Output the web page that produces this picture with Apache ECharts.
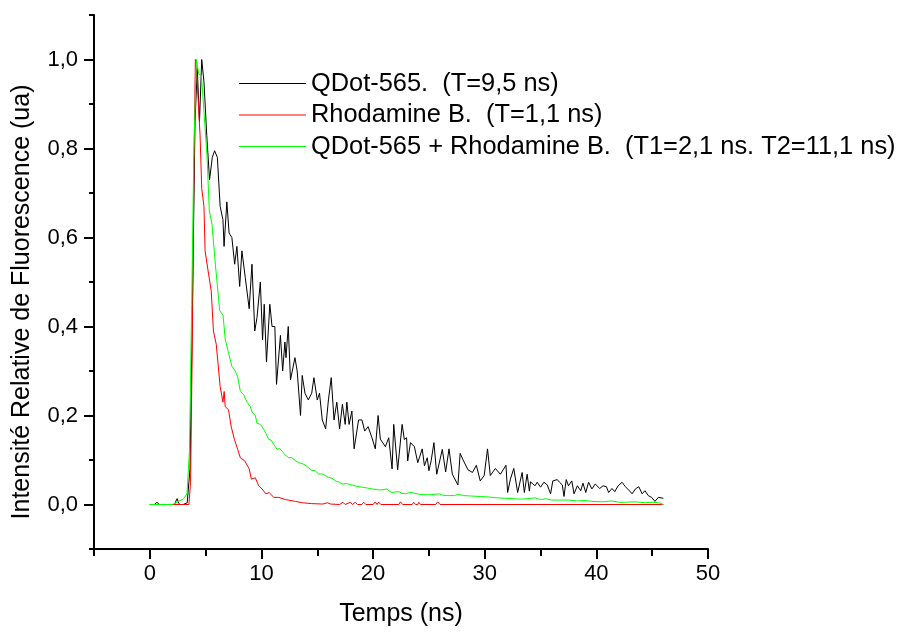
<!DOCTYPE html>
<html><head><meta charset="utf-8">
<script src="https://cdn.jsdelivr.net/npm/echarts@6/dist/echarts.min.js"></script>
<style>html,body{margin:0;padding:0;background:#fff}#c{width:909px;height:632px}</style>
</head><body><div id="c"></div>
<script>
const seriesNames = [
  'QDot-565.  (T=9,5 ns)',
  'Rhodamine B.  (T=1,1 ns)',
  'QDot-565 + Rhodamine B.  (T1=2,1 ns. T2=11,1 ns)'
];
const xTitle = 'Temps (ns)';
const yTitle = 'Intensité Relative de Fluorescence (ua)';
const xMajorTicks = [0, 10, 20, 30, 40, 50];
const xMinorTicks = [-5, 5, 15, 25, 35, 45];
const yMajorTicks = [0, 0.2, 0.4, 0.6, 0.8, 1.0];
const yMinorTicks = [-0.1, 0.1, 0.3, 0.5, 0.7, 0.9, 1.1];

// [time (ns), relative intensity]
const qdot = [[0,0],[0.4,0],[0.64,0.005],[0.85,0],[2.2,0],[2.44,0.013],[2.65,0],[3.0,0],[3.35,0.004],[3.6,0.08],[3.85,0.5],[4.05,0.86],[4.25,0.98],[4.45,0.86],[4.65,1.0],[4.85,0.95],[5.1,0.83],[5.35,0.73],[5.6,0.78],[5.8,0.795],[6.05,0.78],[6.3,0.67],[6.55,0.64],[6.65,0.58],[6.9,0.68],[7.1,0.61],[7.35,0.60],[7.6,0.54],[7.8,0.58],[8.05,0.49],[8.25,0.57],[8.55,0.51],[8.9,0.44],[9.15,0.54],[9.4,0.39],[9.6,0.42],[9.9,0.50],[10.1,0.37],[10.25,0.45],[10.45,0.32],[10.75,0.45],[10.95,0.40],[11.2,0.40],[11.35,0.27],[11.7,0.38],[11.9,0.30],[12.1,0.365],[12.2,0.33],[12.4,0.40],[12.6,0.28],[13.0,0.33],[13.2,0.30],[13.5,0.20],[13.65,0.29],[13.9,0.25],[14.2,0.235],[14.5,0.25],[14.7,0.285],[15.0,0.235],[15.2,0.25],[15.45,0.19],[15.75,0.17],[16.0,0.235],[16.25,0.285],[16.5,0.19],[16.75,0.23],[17.0,0.17],[17.25,0.225],[17.5,0.18],[17.65,0.23],[17.85,0.18],[18.1,0.21],[18.3,0.125],[18.7,0.19],[19.0,0.19],[19.25,0.165],[19.55,0.175],[19.9,0.15],[20.2,0.125],[20.45,0.20],[20.65,0.147],[21.1,0.13],[21.4,0.15],[21.7,0.08],[21.85,0.18],[22.2,0.078],[22.6,0.18],[22.8,0.146],[23.0,0.15],[23.1,0.098],[23.35,0.139],[23.7,0.13],[24.0,0.094],[24.4,0.125],[24.6,0.087],[24.85,0.105],[25.0,0.076],[25.2,0.098],[25.45,0.139],[25.7,0.068],[26.2,0.124],[26.5,0.073],[26.8,0.125],[27.1,0.068],[27.6,0.044],[27.8,0.115],[28.1,0.098],[28.5,0.078],[28.9,0.072],[29.25,0.088],[29.6,0.053],[29.95,0.065],[30.25,0.125],[30.5,0.065],[30.95,0.081],[31.4,0.068],[31.9,0.088],[32.05,0.027],[32.3,0.057],[32.6,0.081],[32.95,0.027],[33.35,0.072],[33.55,0.027],[33.8,0.068],[34.0,0.03],[34.1,0.051],[34.5,0.042],[34.7,0.05],[35.0,0.039],[35.3,0.05],[35.6,0.044],[35.9,0.024],[36.1,0.053],[36.5,0.056],[36.7,0.05],[36.95,0.044],[37.1,0.018],[37.3,0.056],[37.5,0.042],[37.8,0.053],[38.0,0.024],[38.3,0.042],[38.6,0.031],[38.8,0.048],[39.05,0.027],[39.3,0.05],[39.6,0.035],[39.9,0.046],[40.3,0.036],[40.6,0.042],[40.9,0.04],[41.1,0.027],[41.4,0.036],[41.65,0.029],[41.95,0.042],[42.3,0.05],[42.6,0.04],[42.95,0.031],[43.2,0.024],[43.5,0.035],[43.8,0.04],[44.1,0.024],[44.35,0.031],[44.65,0.02],[44.95,0.016],[45.25,0.007],[45.55,0.016],[46.0,0.014]];

const rhodamine = [[0,0],[1,0],[2,0],[3,0],[3.5,0],[3.65,0.05],[3.8,0.35],[3.95,0.75],[4.08,1.0],[4.25,0.95],[4.5,0.83],[4.65,0.71],[4.85,0.67],[4.95,0.57],[5.25,0.52],[5.5,0.48],[5.7,0.39],[5.95,0.36],[6.1,0.36],[6.3,0.265],[6.55,0.23],[6.66,0.254],[6.75,0.22],[7.05,0.213],[7.28,0.176],[7.58,0.146],[7.87,0.124],[8.11,0.105],[8.5,0.098],[8.9,0.08],[9.1,0.057],[9.45,0.06],[9.75,0.042],[10.05,0.035],[10.4,0.024],[10.7,0.027],[11.1,0.016],[11.55,0.016],[12.15,0.011],[13.05,0.007],[13.65,0.004],[14.5,0.002],[15.5,0.001],[15.9,0.004],[16.2,0.001],[17.0,0],[17.3,0.005],[17.5,0],[17.97,0.005],[18.15,0],[18.41,0.005],[18.6,0],[19.0,0],[19.16,0.005],[19.35,0],[20.0,0],[20.2,0.006],[20.35,0],[20.5,0.005],[20.7,0],[22.3,0],[22.45,0.006],[22.65,0],[23.5,0],[23.64,0.005],[23.8,0],[24.0,0],[24.09,0.005],[24.25,0],[25.6,0],[25.79,0.006],[26.0,0],[46,0]];

const mix = [[0,0],[1,0],[2,0],[2.44,0.005],[3.03,0.013],[3.33,0.024],[3.55,0.12],[3.75,0.45],[3.95,0.8],[4.17,1.0],[4.38,0.967],[4.62,0.964],[4.83,0.89],[5.12,0.785],[5.33,0.66],[5.57,0.63],[5.87,0.54],[6.26,0.436],[6.56,0.425],[6.76,0.37],[7.06,0.34],[7.36,0.31],[7.65,0.30],[7.87,0.287],[8.11,0.254],[8.4,0.247],[8.7,0.23],[9.0,0.22],[9.2,0.206],[9.45,0.2],[9.6,0.183],[9.9,0.18],[10.2,0.169],[10.4,0.16],[10.65,0.146],[10.85,0.145],[11.1,0.135],[11.4,0.124],[11.6,0.126],[11.85,0.12],[12.1,0.112],[12.45,0.105],[12.7,0.106],[13.05,0.098],[13.4,0.094],[13.8,0.09],[14.1,0.085],[14.53,0.076],[14.8,0.077],[15.12,0.068],[15.4,0.069],[15.72,0.065],[16.0,0.061],[16.32,0.059],[16.7,0.052],[17.0,0.05],[17.22,0.046],[17.6,0.047],[18.1,0.044],[18.5,0.041],[19.0,0.039],[19.5,0.037],[19.9,0.035],[20.4,0.033],[20.8,0.033],[21.25,0.035],[21.45,0.03],[21.7,0.027],[22.0,0.028],[22.3,0.029],[22.6,0.025],[22.9,0.024],[23.3,0.027],[23.65,0.026],[24.1,0.023],[24.55,0.022],[25.2,0.022],[25.88,0.024],[26.2,0.021],[26.63,0.02],[27.3,0.02],[27.6,0.023],[28.1,0.02],[28.8,0.019],[29.6,0.018],[30.3,0.017],[31.1,0.015],[31.8,0.014],[32.6,0.013],[33.2,0.012],[33.8,0.013],[34.5,0.015],[35.0,0.011],[35.5,0.013],[36.0,0.01],[36.6,0.01],[37.5,0.01],[38.3,0.008],[39.0,0.009],[39.6,0.007],[40.5,0.006],[41.4,0.008],[42.0,0.005],[42.6,0.005],[43.5,0.006],[44.4,0.004],[45.0,0.005],[45.6,0.004],[46.0,0.0]];

const colors = ['#000000', '#ff0000', '#00ff00'];
const FONT = "'Liberation Sans', Arial, sans-serif";

const chart = echarts.init(document.getElementById('c'), null, {renderer: 'canvas'});
const axisLine = {show: true, onZero: false, lineStyle: {color: '#000', width: 2}};
const noLine = {show: false, onZero: false};
chart.setOption({
  animation: false,
  backgroundColor: '#fff',
  grid: {left: 94, top: 15, width: 614, height: 539, containLabel: false},
  legend: {
    data: seriesNames, orient: 'vertical', left: 239, top: 71, padding: 0,
    itemWidth: 67, itemHeight: 1, itemGap: 6.5, icon: 'rect',
    textStyle: {fontFamily: FONT, fontSize: 25.4, color: '#000'}
  },
  xAxis: [{
    type: 'value', min: -5, max: 50, position: 'bottom',
    axisLine: axisLine,
    axisTick: {show: true, inside: false, length: 10, customValues: xMajorTicks, lineStyle: {color: '#000', width: 2}},
    axisLabel: {show: true, customValues: xMajorTicks, margin: 14, fontFamily: FONT, fontSize: 22, color: '#000'},
    splitLine: {show: false},
    name: xTitle, nameLocation: 'middle', nameGap: 53,
    nameTextStyle: {fontFamily: FONT, fontSize: 25, color: '#000'}
  }, {
    type: 'value', min: -5, max: 50, position: 'bottom', gridIndex: 0,
    axisLine: noLine,
    axisTick: {show: true, length: 7, customValues: xMinorTicks, lineStyle: {color: '#000', width: 2}},
    axisLabel: {show: false},
    splitLine: {show: false}
  }],
  yAxis: [{
    type: 'value', min: -0.1, max: 1.1, position: 'left',
    axisLine: axisLine,
    axisTick: {show: true, length: 10, customValues: yMajorTicks, lineStyle: {color: '#000', width: 2}},
    axisLabel: {show: true, customValues: yMajorTicks, margin: 16, fontFamily: FONT, fontSize: 22, color: '#000',
      formatter: v => v.toFixed(1).replace('.', ',')},
    splitLine: {show: false},
    name: yTitle, nameLocation: 'middle', nameGap: 59, nameRotate: 90,
    nameTextStyle: {fontFamily: FONT, fontSize: 25, color: '#000', padding: [0, 40, 0, 0]}
  }, {
    type: 'value', min: -0.1, max: 1.1, position: 'left', gridIndex: 0,
    axisLine: noLine,
    axisTick: {show: true, length: 5, customValues: yMinorTicks, lineStyle: {color: '#000', width: 2}},
    axisLabel: {show: false},
    splitLine: {show: false}
  }],
  series: [
    {name: seriesNames[0], type: 'line', data: qdot, color: colors[0]},
    {name: seriesNames[1], type: 'line', data: rhodamine, color: colors[1]},
    {name: seriesNames[2], type: 'line', data: mix, color: colors[2]}
  ].map(s => Object.assign(s, {
    xAxisIndex: 0, yAxisIndex: 0, showSymbol: false, symbol: 'none',
    lineStyle: {width: 1, color: s.color}, itemStyle: {color: s.color}, silent: true
  }))
});
</script></body></html>
